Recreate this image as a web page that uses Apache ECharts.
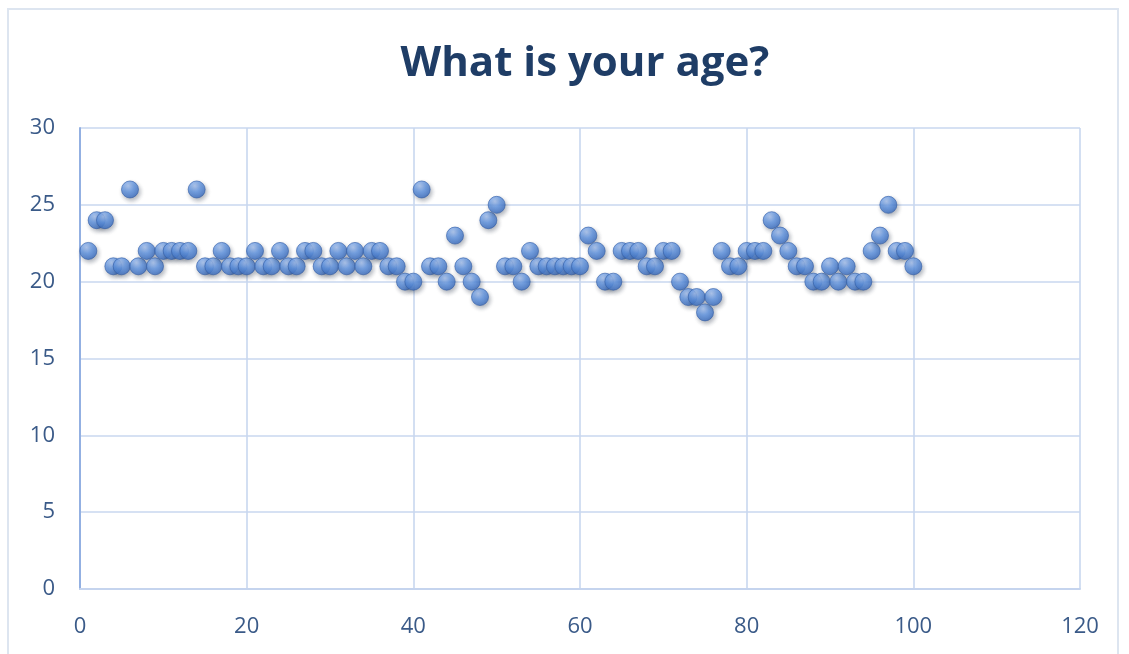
<!DOCTYPE html>
<html>
<head>
<meta charset="utf-8">
<script src="https://cdn.jsdelivr.net/npm/echarts@6/dist/echarts.min.js"></script>
<style>
  html, body { margin: 0; padding: 0; background: #ffffff; }
  #frame { position: absolute; left: 7px; top: 8px; width: 1112px; height: 660px; border: 2px solid #dde5f0; box-sizing: border-box; }
  #chart { position: absolute; left: 0; top: 0; width: 1129px; height: 654px; }
</style>
</head>
<body>
<div id="frame"></div>
<div id="chart"></div>
<script>
// Respondent number (1..100) and the age each one reported
const respondents = Array.from({ length: 100 }, (_, i) => i + 1);
const ages = [
  22, 24, 24, 21, 21, 26, 21, 22, 21, 22,
  22, 22, 22, 26, 21, 21, 22, 21, 21, 21,
  22, 21, 21, 22, 21, 21, 22, 22, 21, 21,
  22, 21, 22, 21, 22, 22, 21, 21, 20, 20,
  26, 21, 21, 20, 23, 21, 20, 19, 24, 25,
  21, 21, 20, 22, 21, 21, 21, 21, 21, 21,
  23, 22, 20, 20, 22, 22, 22, 21, 21, 22,
  22, 20, 19, 19, 18, 19, 22, 21, 21, 22,
  22, 22, 24, 23, 22, 21, 21, 20, 20, 21,
  20, 21, 20, 20, 22, 23, 25, 22, 22, 21
];
const xTicks = [0, 20, 40, 60, 80, 100, 120];
const yTicks = [0, 5, 10, 15, 20, 25, 30];

const points = respondents.map((r, i) => [r, ages[i]]);

const chart = echarts.init(document.getElementById('chart'), null, { renderer: 'canvas' });
const labelFont = { color: '#3a5a88', fontSize: 22, fontFamily: 'Open Sans, Noto Sans, sans-serif' };

chart.setOption({
  animation: false,
  backgroundColor: 'transparent',
  title: {
    text: 'What is your age?',
    left: 580,
    textAlign: 'center',
    top: 38,
    textStyle: { color: '#1f3d66', fontSize: 42, fontWeight: 'bold', fontFamily: 'Open Sans, Noto Sans, sans-serif' }
  },
  grid: { left: 80, right: 49, top: 128, bottom: 65 },
  xAxis: {
    type: 'value',
    min: xTicks[0],
    max: xTicks[xTicks.length - 1],
    interval: xTicks[1] - xTicks[0],
    axisLine: { show: true, onZero: false, lineStyle: { color: '#c5d4ee', width: 2 } },
    axisTick: { show: false },
    splitLine: { show: true, lineStyle: { color: '#c8d7ef', width: 1.6 } },
    axisLabel: Object.assign({ margin: 27 }, labelFont)
  },
  yAxis: {
    type: 'value',
    min: yTicks[0],
    max: yTicks[yTicks.length - 1],
    interval: yTicks[1] - yTicks[0],
    axisLine: { show: true, onZero: false, lineStyle: { color: '#93b0e2', width: 2 } },
    axisTick: { show: false },
    splitLine: { show: true, lineStyle: { color: '#c8d7ef', width: 1.6 } },
    axisLabel: Object.assign({ margin: 25 }, labelFont)
  },
  series: [{
    type: 'scatter',
    data: points,
    symbol: 'circle',
    symbolSize: 17,
    itemStyle: {
      color: {
        type: 'radial', x: 0.4, y: 0.3, r: 0.75,
        colorStops: [
          { offset: 0, color: '#aac6f4' },
          { offset: 0.45, color: '#6196e4' },
          { offset: 0.85, color: '#4175c8' },
          { offset: 1, color: '#2b5296' }
        ]
      },
      borderColor: '#335ea8',
      borderWidth: 0.8,
      shadowColor: 'rgba(40, 50, 70, 0.45)',
      shadowBlur: 4,
      shadowOffsetX: 1.5,
      shadowOffsetY: 2.5
    }
  }]
});
</script>
</body>
</html>
